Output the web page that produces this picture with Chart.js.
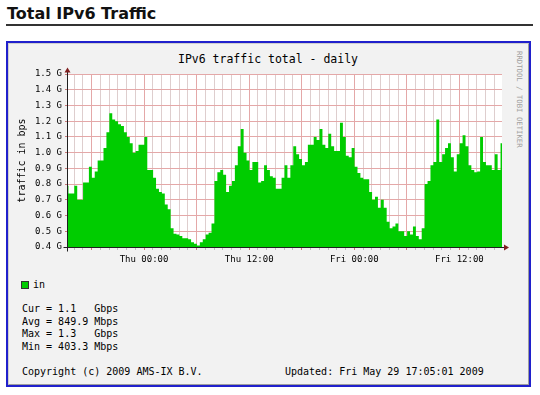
<!DOCTYPE html>
<html>
<head>
<meta charset="utf-8">
<script src="https://cdn.jsdelivr.net/npm/chart.js@4/dist/chart.umd.min.js"></script>
<style>
  html, body { margin: 0; padding: 0; background: #fff; }
  body { width: 540px; height: 395px; position: relative; overflow: hidden; font-family: 'DejaVu Sans Mono', monospace; color: #000; }
  #heading { position: absolute; left: 7px; top: 4px; font: bold 16px/20px 'DejaVu Sans', Verdana, sans-serif; color: #111; white-space: nowrap; }
  #rule { position: absolute; left: 6px; top: 24px; width: 527px; height: 2px; background: #333; }
  #frame { position: absolute; left: 6px; top: 41px; width: 521px; height: 342px; border: 2px solid #2020cc; background: #f2f2f2; }
  #shade { position: absolute; left: 0; top: 0; right: 0; bottom: 0; border-top: 1px solid #cfcfcf; border-left: 1px solid #cfcfcf; border-right: 1px solid #9e9e9e; border-bottom: 1px solid #9e9e9e; }
  .txt { position: absolute; white-space: pre; font-size: 10px; line-height: 12px; font-family: 'DejaVu Sans Mono', monospace; }
  #gtitle { left: 0; width: 536px; top: 52px; text-align: center; font-size: 11.5px; line-height: 14px; }
  #vendor { left: 515px; top: 51px; font-size: 7.3px; line-height: 9px; writing-mode: vertical-rl; color: #a0a0a0; }
  #swatch { position: absolute; left: 21px; top: 281px; width: 6px; height: 6px; background: #00cc00; border: 1px solid #333; }
  #legend { left: 33px; top: 279px; }
  #stats { left: 22px; top: 303px; line-height: 12.5px; }
  #copy { left: 22px; top: 366px; }
  #updated { left: 285px; top: 366px; }
  canvas { position: absolute; left: 0; top: 0; z-index: 2; }
</style>
</head>
<body>
<div id="heading">Total IPv6 Traffic</div>
<div id="rule"></div>
<div id="frame"><div id="shade"></div></div>
<div class="txt" id="gtitle">IPv6 traffic total - daily</div>
<div class="txt" id="vendor">RRDTOOL / TOBI OETIKER</div>
<div id="swatch"></div>
<div class="txt" id="legend">in</div>
<div class="txt" id="stats"></div>
<div class="txt" id="copy">Copyright (c) 2009 AMS-IX B.V.</div>
<div class="txt" id="updated">Updated: Fri May 29 17:05:01 2009</div>
<canvas id="chart" width="540" height="395"></canvas>
<script>
// hours relative to Thu 00:00, one sample every 20 minutes
const startHour = -8.8;
const stepHours = 1 / 3;

// inbound traffic, Gbps
const inTraffic = [
  0.79, 0.74, 0.74, 0.79, 0.70, 0.70, 0.81, 0.81, 0.91, 0.84,
  0.88, 0.95, 0.95, 1.03, 1.13, 1.25, 1.21, 1.20, 1.18, 1.17,
  1.13, 1.10, 1.06, 1.00, 1.01, 1.05, 1.05, 1.10, 0.89, 0.89,
  0.84, 0.77, 0.75, 0.74, 0.67, 0.64, 0.52, 0.485, 0.48, 0.47,
  0.455, 0.455, 0.45, 0.43, 0.42, 0.41, 0.43, 0.45, 0.48, 0.49,
  0.55, 0.82, 0.875, 0.89, 0.86, 0.75, 0.79, 0.82, 0.92, 1.04,
  1.15, 1.00, 0.95, 0.89, 0.94, 0.94, 0.81, 0.82, 0.92, 0.89,
  0.85, 0.84, 0.77, 0.77, 0.84, 0.92, 0.84, 0.92, 1.04, 0.99,
  0.96, 0.92, 0.94, 1.05, 1.05, 1.10, 1.08, 1.15, 1.05, 1.03,
  1.12, 1.04, 1.01, 1.01, 1.19, 1.10, 0.98, 0.97, 1.03, 0.91,
  0.87, 0.84, 0.83, 0.83, 0.75, 0.70, 0.72, 0.65, 0.70, 0.65,
  0.56, 0.52, 0.53, 0.55, 0.50, 0.50, 0.47, 0.50, 0.48, 0.53,
  0.47, 0.45, 0.52, 0.80, 0.82, 0.92, 0.94, 1.21, 0.94, 0.99,
  1.03, 1.06, 0.97, 0.88, 0.99, 1.06, 1.11, 1.04, 0.92, 0.89,
  0.875, 0.88, 1.10, 0.94, 0.92, 0.92, 0.89, 0.99, 0.89, 1.06
];

const labelHours = [0, 12, 24, 36];
const labelTexts = ['Thu 00:00', 'Thu 12:00', 'Fri 00:00', 'Fri 12:00'];

const statLines = [
  'Cur = 1.1   Gbps',
  'Avg = 849.9 Mbps',
  'Max = 1.3   Gbps',
  'Min = 403.3 Mbps'
];
document.getElementById('stats').textContent = statLines.join('\n');

const GREEN = '#00cc00';
const MGRID = 'rgb(228,168,168)';
const GRID = 'rgb(222,206,206)';

const points = inTraffic.map((v, i) => ({ x: startHour + i * stepHours, y: v }));
const endHour = startHour + (inTraffic.length - 1) * stepHours;

const gridHours = [];
for (let h = Math.ceil(startHour); h <= endHour; h++) gridHours.push(h);

const rrdFrame = {
  id: 'rrdFrame',
  beforeDraw(chart) {
    const { ctx, chartArea: a } = chart;
    ctx.save();
    ctx.fillStyle = '#ffffff';
    ctx.fillRect(a.left, a.top, a.right - a.left, a.bottom - a.top);
    ctx.restore();
  },
  afterDatasetsDraw(chart) {
    const { ctx, chartArea: a } = chart;
    const x0 = Math.round(a.left - 0.5) + 0.5;
    const y0 = Math.round(a.bottom - 0.5) + 0.5;
    const top = Math.round(a.top - 0.5) + 0.5;
    const right = a.right;

    ctx.save();
    ctx.strokeStyle = 'rgb(31,31,31)';
    ctx.lineWidth = 1;
    ctx.beginPath();
    ctx.moveTo(x0 - 4, y0);
    ctx.lineTo(right + 4, y0);
    ctx.moveTo(x0, y0 + 4);
    ctx.lineTo(x0, top - 4);
    ctx.stroke();

    ctx.fillStyle = 'rgb(128,31,31)';
    ctx.beginPath();
    ctx.moveTo(right + 2, y0 - 3);
    ctx.lineTo(right + 2, y0 + 3);
    ctx.lineTo(right + 7, y0);
    ctx.closePath();
    ctx.fill();
    ctx.beginPath();
    ctx.moveTo(x0 - 3, top - 2);
    ctx.lineTo(x0 + 3, top - 2);
    ctx.lineTo(x0, top - 7);
    ctx.closePath();
    ctx.fill();
    ctx.restore();
  }
};

new Chart(document.getElementById('chart'), {
  type: 'line',
  data: {
    datasets: [{
      label: 'in',
      data: points,
      stepped: 'middle',
      fill: 'start',
      backgroundColor: GREEN,
      borderColor: GREEN,
      borderWidth: 0,
      pointRadius: 0
    }]
  },
  options: {
    responsive: false,
    animation: false,
    events: [],
    layout: { padding: { left: 12, top: 74, right: 38, bottom: 128 } },
    plugins: {
      legend: { display: false },
      title: { display: false },
      tooltip: { enabled: false }
    },
    scales: {
      x: {
        type: 'linear',
        min: startHour,
        max: endHour,
        afterBuildTicks(scale) {
          scale.ticks = gridHours.map(h => ({ value: h }));
        },
        afterFit(scale) { scale.height = 20; },
        grid: {
          color: c => (c.tick && c.tick.value % 6 === 0 ? MGRID : GRID),
          tickColor: c => (c.tick && c.tick.value % 6 === 0 ? 'rgb(200,120,120)' : 'rgb(190,190,190)'),
          tickLength: 3,
          lineWidth: 1
        },
        border: { display: false },
        ticks: {
          autoSkip: false,
          maxRotation: 0,
          minRotation: 0,
          padding: 4,
          color: '#000',
          font: { family: "'DejaVu Sans Mono', monospace", size: 9 },
          callback: v => {
            const k = labelHours.indexOf(v);
            return k >= 0 ? labelTexts[k] : '';
          }
        }
      },
      y: {
        min: 0.4,
        max: 1.5,
        afterFit(scale) { scale.width = 55; },
        grid: {
          color: MGRID,
          tickColor: 'rgb(200,120,120)',
          tickLength: 2,
          lineWidth: 1
        },
        border: { display: false },
        title: {
          display: true,
          text: 'traffic in bps',
          color: '#000',
          padding: { top: 4, bottom: 4 },
          font: { family: "'DejaVu Sans Mono', monospace", size: 10 }
        },
        ticks: {
          stepSize: 0.1,
          padding: 3,
          color: '#000',
          font: { family: "'DejaVu Sans Mono', monospace", size: 9 },
          callback: v => v.toFixed(1) + ' G'
        }
      }
    }
  },
  plugins: [rrdFrame]
});
</script>
</body>
</html>
